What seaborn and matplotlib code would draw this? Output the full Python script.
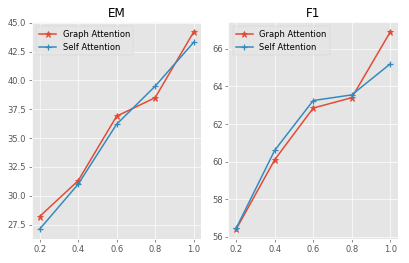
import matplotlib
matplotlib.use("Agg")
import matplotlib.pyplot as plt
import seaborn as sns
import pandas as pd

x = [0.2, 0.4, 0.6, 0.8, 1.0]
em_graph = [28.2, 31.3, 36.9, 38.5, 44.2]
em_self = [27.1, 31.0, 36.2, 39.5, 43.3]
f1_graph = [56.4, 60.1, 62.85, 63.4, 66.9]
f1_self = [56.45, 60.6, 63.25, 63.55, 65.2]

plt.style.use("ggplot")
plt.rcParams['font.family'] = ['DejaVu Sans']

DPI = 60
fig, axes = plt.subplots(1, 2, figsize=(409 / DPI, 263 / DPI), dpi=DPI)
colors = ["#E24A33", "#348ABD"]

for ax, title, g, s in [(axes[0], "EM", em_graph, em_self), (axes[1], "F1", f1_graph, f1_self)]:
    sns.lineplot(x=x, y=g, ax=ax, color=colors[0], marker="*", markersize=8,
                 markeredgewidth=1.0, markeredgecolor=colors[0], label="Graph Attention", linewidth=1.8)
    sns.lineplot(x=x, y=s, ax=ax, color=colors[1], marker="+", markersize=8,
                 markeredgewidth=1.5, markeredgecolor=colors[1], label="Self Attention", linewidth=1.8)
    ax.set_title(title)
    ax.set_xticks(x)
    ax.legend(loc="upper left")

axes[0].set_yticks([27.5, 30.0, 32.5, 35.0, 37.5, 40.0, 42.5, 45.0])
axes[0].set_yticklabels(["27.5", "30.0", "32.5", "35.0", "37.5", "40.0", "42.5", "45.0"])
axes[1].set_yticks([56, 58, 60, 62, 64, 66])

plt.subplots_adjust(left=0.078, right=0.973, top=0.916, bottom=0.091, wspace=0.16)
fig.savefig("out.png", dpi=DPI)
